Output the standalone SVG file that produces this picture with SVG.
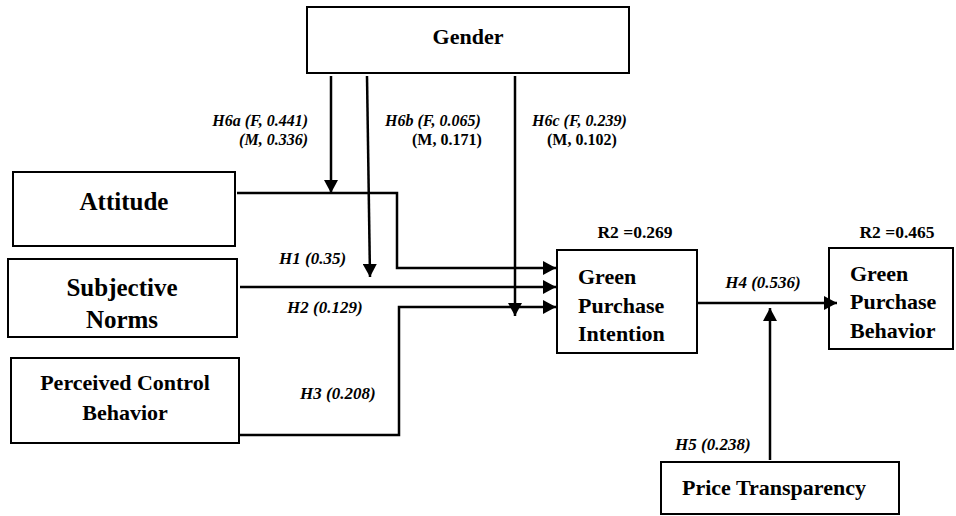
<svg xmlns="http://www.w3.org/2000/svg" width="956" height="516" viewBox="0 0 956 516">
<style>
.box{fill:#fff;stroke:#000;stroke-width:2}
.big{font-family:"Liberation Serif",serif;font-weight:bold;font-size:25px;fill:#000}
.nt{font-family:"Liberation Serif",serif;font-weight:bold;font-size:22px;fill:#000}
.r2{font-family:"Liberation Serif",serif;font-weight:bold;font-size:17.5px;fill:#000}
.lb{font-family:"Liberation Serif",serif;font-weight:bold;font-style:italic;font-size:17px;fill:#000}
.lbs{font-family:"Liberation Serif",serif;font-weight:bold;font-style:italic;font-size:16px;fill:#000}
.lbn{font-family:"Liberation Serif",serif;font-weight:bold;font-size:16px;fill:#000}
.ln{fill:none;stroke:#000;stroke-width:2.5}
</style>
<defs>
<marker id="ah" markerUnits="userSpaceOnUse" markerWidth="14" markerHeight="14" refX="13" refY="7" orient="auto">
<path d="M0,0 L13,7 L0,14 z" fill="#000"/>
</marker>
</defs>
<rect width="956" height="516" fill="#fff"/>

<g id="gender">
<rect class="box" x="307" y="7" width="322" height="66"/>
<text class="nt" x="468" y="44" text-anchor="middle">Gender</text>
</g>
<g id="attitude">
<rect class="box" x="13" y="172" width="222" height="74"/>
<text class="big" x="124" y="210" text-anchor="middle">Attitude</text>
</g>
<g id="subjective-norms">
<rect class="box" x="8" y="259" width="229" height="78"/>
<text class="big" x="122" y="296" text-anchor="middle">Subjective</text>
<text class="big" x="122" y="328" text-anchor="middle">Norms</text>
</g>
<g id="pcb">
<rect class="box" x="11" y="358" width="228" height="85"/>
<text class="nt" x="125" y="390" text-anchor="middle">Perceived Control</text>
<text class="nt" x="125" y="420" text-anchor="middle">Behavior</text>
</g>
<g id="gpi">
<rect class="box" x="557" y="250" width="140" height="103"/>
<text class="nt" x="578" y="284">Green</text>
<text class="nt" x="578" y="313">Purchase</text>
<text class="nt" x="578" y="341">Intention</text>
<text class="r2" x="635" y="238" text-anchor="middle">R2 =0.269</text>
</g>
<g id="gpb">
<rect class="box" x="829" y="248" width="124" height="101"/>
<text class="nt" x="850" y="281">Green</text>
<text class="nt" x="850" y="309">Purchase</text>
<text class="nt" x="850" y="338">Behavior</text>
<text class="r2" x="897" y="238" text-anchor="middle">R2 =0.465</text>
</g>
<g id="price-transparency">
<rect class="box" x="661" y="462" width="238" height="52"/>
<text class="nt" x="774" y="495" text-anchor="middle">Price Transparency</text>
</g>

<g id="connectors">
<path class="ln" d="M237,193 H397 V268 H556" marker-end="url(#ah)"/>
<path class="ln" d="M240,287 H556" marker-end="url(#ah)"/>
<path class="ln" d="M239,435 H399 V307 H556" marker-end="url(#ah)"/>
<path class="ln" d="M331,76 V193" marker-end="url(#ah)"/>
<path class="ln" d="M367,76 L370,277" marker-end="url(#ah)"/>
<path class="ln" d="M515,76 V316" marker-end="url(#ah)"/>
<path class="ln" d="M697,303 H837" marker-end="url(#ah)"/>
<path class="ln" d="M770,460 V308" marker-end="url(#ah)"/>
</g>

<g id="labels">
<text class="lbs" x="308" y="126" text-anchor="end">H6a (F, 0.441)</text>
<text class="lbs" x="308" y="145" text-anchor="end">(M, 0.336)</text>
<text class="lbs" x="385" y="126">H6b (F, 0.065)</text>
<text class="lbn" x="412" y="145">(M, 0.171)</text>
<text class="lbs" x="532" y="126">H6c (F, 0.239)</text>
<text class="lbn" x="547" y="145">(M, 0.102)</text>
<text class="lb" x="279" y="264">H1 (0.35)</text>
<text class="lb" x="287" y="313">H2 (0.129)</text>
<text class="lb" x="300" y="399">H3 (0.208)</text>
<text class="lb" x="763" y="288" text-anchor="middle">H4 (0.536)</text>
<text class="lb" x="675" y="450">H5 (0.238)</text>
</g>
</svg>
